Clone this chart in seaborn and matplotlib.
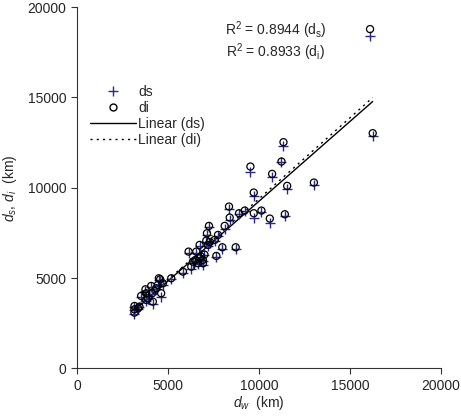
import matplotlib
matplotlib.use("Agg")
import matplotlib.pyplot as plt
import seaborn as sns
import numpy as np
import pandas as pd
from matplotlib.lines import Line2D

dw = [16093, 16240, 11340, 11230, 9524, 10716, 11542, 13010, 9707, 8349,
      8900, 9212, 9707, 10129, 10588, 11414, 8386, 8110, 7248, 7138,
      7744, 7560, 7101, 6734, 7193, 7982, 8716, 7652, 6129, 6551,
      6734, 6918, 6367, 6643, 6918, 6276, 5817, 5175, 4496, 4569,
      4716, 4441, 4074, 3762, 4349, 4129, 3799, 3523, 3890, 4624,
      4166, 3799, 3431, 3156, 3156, 3156, 3358, 7000, 6800, 7300, 6500]
di = [18784, 13021, 12523, 11451, 11174, 10768, 10103, 10288, 9734, 8958,
      8589, 8736, 8589, 8736, 8293, 8533, 8348, 7887, 7887, 7480,
      7388, 7111, 7074, 6834, 6834, 6705, 6705, 6224, 6464, 6464,
      6095, 6003, 5910, 5818, 5818, 5633, 5356, 4987, 4987, 4931,
      4710, 4618, 4562, 4377, 4433, 4156, 4156, 4008, 3879, 4156,
      3694, 3786, 3417, 3454, 3269, 3084, 3325, 6300, 6200, 7000, 6000]
ds = [18378, 12874, 12320, 11420, 10897, 10620, 9955, 10140, 9567, 8810,
      8540, 8700, 8311, 8680, 8071, 8459, 8220, 7700, 7810, 7400,
      7330, 7050, 7000, 6780, 6800, 6590, 6590, 6150, 6370, 6400,
      6030, 5950, 5860, 5780, 5720, 5520, 5290, 4960, 4900, 4850,
      4620, 4560, 4500, 4310, 4380, 4100, 4090, 3950, 3820, 3971,
      3565, 3730, 3370, 3400, 3220, 3011, 3290, 6250, 6150, 6950, 5950]

r2_labels = [r"R$^2$ = 0.8944 (d$_\mathregular{s}$)", r"R$^2$ = 0.8933 (d$_\mathregular{i}$)"]
x_ticks = [0, 5000, 10000, 15000, 20000]
y_ticks = [0, 5000, 10000, 15000, 20000]

df = pd.DataFrame({"dw": dw, "ds": ds, "di": di})

sns.set_style("white")
plt.rcParams["font.family"] = ["Liberation Sans", "DejaVu Sans"]
plt.rcParams["mathtext.fontset"] = "custom"
plt.rcParams["mathtext.rm"] = "Liberation Sans"
plt.rcParams["mathtext.it"] = "Liberation Sans:italic"

fig = plt.figure(figsize=(4.61, 4.20), dpi=100)
ax = fig.add_axes([0.167, 0.123, 0.79, 0.86])

blue = "#2a2a8c"
sns.scatterplot(data=df, x="dw", y="ds", marker="+", color=blue, s=45,
                linewidth=1.0, ax=ax, zorder=3)
sns.scatterplot(data=df, x="dw", y="di", marker="o", facecolor="none",
                edgecolor="black", s=26, linewidth=0.9, ax=ax, zorder=4)
sns.regplot(data=df, x="dw", y="ds", scatter=False, ci=None, truncate=True,
            line_kws=dict(color="black", lw=1.0, ls="-"), ax=ax)
sns.regplot(data=df, x="dw", y="di", scatter=False, ci=None, truncate=True,
            line_kws=dict(color="black", lw=1.0, ls=(0, (1.5, 3))), ax=ax)

ax.set_xlim(0, 20000)
ax.set_ylim(0, 20000)
ax.set_xticks(x_ticks)
ax.set_yticks(y_ticks)
ax.tick_params(axis="both", labelsize=10, length=4, width=0.8, color="#333333",
               direction="out", bottom=True, left=True)
for s in ["top", "right"]:
    ax.spines[s].set_visible(False)
for s in ["left", "bottom"]:
    ax.spines[s].set_color("#333333")
    ax.spines[s].set_linewidth(0.8)

ax.set_xlabel(r"$d_w$  (km)", fontsize=10, labelpad=1)
ax.set_ylabel(r"$d_s$, $d_i$  (km)", fontsize=10, labelpad=6)

ax.text(0.545, 0.935, r2_labels[0], transform=ax.transAxes, ha="center", va="center", fontsize=10)
ax.text(0.545, 0.876, r2_labels[1], transform=ax.transAxes, ha="center", va="center", fontsize=10)

handles = [
    Line2D([], [], marker="+", color=blue, ls="none", markersize=7),
    Line2D([], [], marker="o", markerfacecolor="none", markeredgecolor="black", ls="none", markersize=5),
    Line2D([], [], color="black", lw=1.0, ls="-"),
    Line2D([], [], color="black", lw=1.0, ls=(0, (1.5, 3))),
]
ax.legend(handles, ["ds", "di", "Linear (ds)", "Linear (di)"], loc="upper left",
          bbox_to_anchor=(0.02, 0.8), frameon=False, fontsize=10,
          handlelength=3.3, handletextpad=0.2, labelspacing=0.15, borderaxespad=0)

fig.savefig("out.png", dpi=100)
